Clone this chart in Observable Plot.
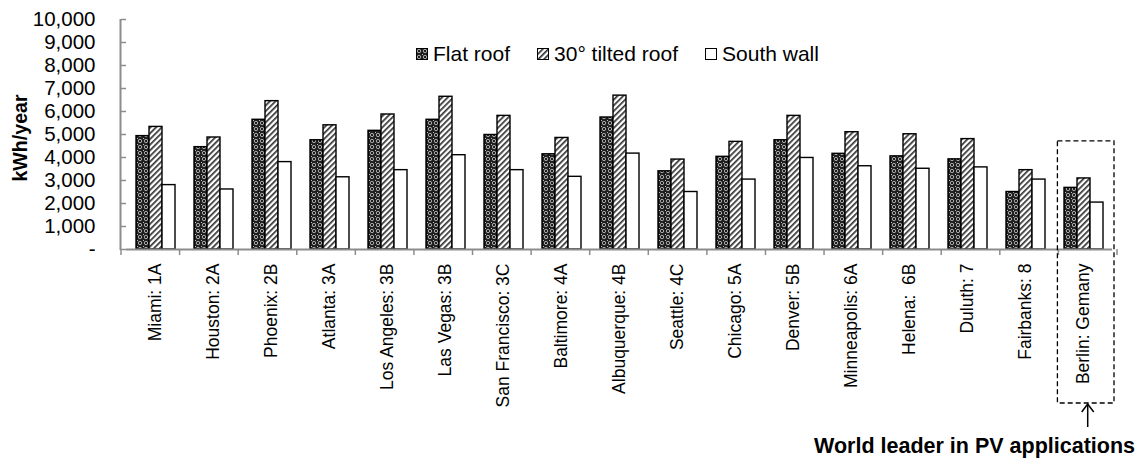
<!DOCTYPE html>
<html><head><meta charset="utf-8">
<script src="https://cdn.jsdelivr.net/npm/d3@7"></script>
<script src="https://cdn.jsdelivr.net/npm/@observablehq/plot@0.6"></script>
<style>
html,body{margin:0;padding:0;background:#fff;}
#wrap{position:relative;width:1144px;height:459px;font-family:Arial,"Liberation Sans",sans-serif;}
#legend{position:absolute;left:416px;top:42px;display:flex;align-items:center;font-size:21px;line-height:24px;color:#000;white-space:nowrap;}
.item{display:flex;align-items:center;margin-right:27px;}
.item svg{margin-right:5px;display:block;}
svg text{white-space:pre;}
</style></head><body><div id="wrap"><div id="legend"></div></div>
<script>
const cities = ["Miami: 1A","Houston: 2A","Phoenix: 2B","Atlanta: 3A","Los Angeles: 3B","Las Vegas: 3B","San Francisco: 3C","Baltimore: 4A","Albuquerque: 4B","Seattle: 4C","Chicago: 5A","Denver: 5B","Minneapolis: 6A","Helena:  6B","Duluth: 7","Fairbanks: 8","Berlin: Gemany"];
const series = ["Flat roof","30° tilted roof","South wall"];
const flat   = [4930,4450,5640,4750,5160,5640,4980,4140,5740,3400,4030,4750,4160,4050,3920,2500,2680];
const tilted = [5330,4870,6450,5400,5870,6640,5810,4850,6690,3910,4680,5810,5100,5010,4800,3450,3090];
const south  = [2800,2610,3800,3140,3450,4100,3450,3160,4170,2500,3040,3980,3620,3510,3570,3040,2040];
const yTicks = [0,1000,2000,3000,4000,5000,6000,7000,8000,9000,10000];
const yLabel = "kWh/year";
const annotation = "World leader in PV applications";
const highlighted = "Berlin: Gemany";

const table = cities.flatMap((c, i) => [
  {city: c, series: series[0], value: flat[i]},
  {city: c, series: series[1], value: tilted[i]},
  {city: c, series: series[2], value: south[i]}
]);
const fills = ["url(#patFlat)", "url(#patTilt)", "#ffffff"];
const axisGray = "#8c8c8c";

const plot = Plot.plot({
  width: 1144, height: 459,
  marginTop: 19, marginBottom: 210, marginLeft: 121, marginRight: 27,
  style: {fontFamily: "Arial, 'Liberation Sans', sans-serif", fontSize: "20px", background: "transparent", overflow: "visible", color: "#000"},
  fx: {domain: cities, padding: 0, label: null},
  x: {domain: series, paddingInner: 0, paddingOuter: 0.69, axis: null},
  y: {domain: [0, 10000], axis: null},
  color: {domain: series, range: fills},
  marks: [
    Plot.barY(table, {fx: "city", x: "series", y: "value", fill: "series", stroke: "#000", strokeWidth: 1.4}),
    Plot.ruleY([0], {stroke: axisGray, strokeWidth: 2}),
    Plot.axisY({ticks: yTicks, tickFormat: d => d === 0 ? "-" : d3.format(",")(d), tickSize: 5, tickPadding: 26, fontSize: 20.5, stroke: axisGray, strokeWidth: 1.5, label: null}),
    Plot.axisFx({anchor: "bottom", tickRotate: -90, tickSize: 0, tickPadding: 14, fontSize: 17.5, label: null})
  ]
});

const svg = d3.select(plot);
const defs = svg.insert("defs", ":first-child");
const pf = defs.append("pattern").attr("id", "patFlat").attr("patternUnits", "userSpaceOnUse").attr("width", 6).attr("height", 6);
pf.append("rect").attr("width", 6).attr("height", 6).attr("fill", "#1e1e1e");
pf.append("circle").attr("cx", 3).attr("cy", 3).attr("r", 1.7).attr("fill", "none").attr("stroke", "#aaaaaa").attr("stroke-width", 1);
pf.append("rect").attr("x", 0).attr("y", 0).attr("width", 1).attr("height", 1).attr("fill", "#bdbdbd");
const pt = defs.append("pattern").attr("id", "patTilt").attr("patternUnits", "userSpaceOnUse").attr("width", 4).attr("height", 4).attr("patternTransform", "rotate(45)");
pt.append("rect").attr("width", 4).attr("height", 4).attr("fill", "#fff");
pt.append("rect").attr("width", 1.7).attr("height", 4).attr("fill", "#333");

// scale-derived geometry
const fxS = plot.scale("fx"), yS = plot.scale("y");
const x0 = fxS.range[0], step = (fxS.range[1] - fxS.range[0]) / cities.length;
const yBot = yS.range[0], yTop = yS.range[1];
const yv = v => yBot + (yTop - yBot) * (v - yS.domain[0]) / (yS.domain[1] - yS.domain[0]);

const deco = svg.append("g");
deco.append("line").attr("x1", x0 - 0.5).attr("x2", x0 - 0.5).attr("y1", yTop).attr("y2", yBot + 1).attr("stroke", axisGray).attr("stroke-width", 2);
for (let i = 0; i <= cities.length; i++) {
  deco.append("line").attr("x1", x0 + i * step).attr("x2", x0 + i * step).attr("y1", yBot).attr("y2", yBot + 6).attr("stroke", axisGray).attr("stroke-width", 1.5);
}
const bi = cities.indexOf(highlighted);
const bx0 = x0 + bi * step - 1, bx1 = x0 + (bi + 1) * step - 3;
const bTop = yv(4700), bBot = yBot + 154;
deco.append("rect").attr("x", bx0).attr("y", bTop).attr("width", bx1 - bx0).attr("height", bBot - bTop)
  .attr("fill", "none").attr("stroke", "#000").attr("stroke-width", 1.3).attr("stroke-dasharray", "5,3");
const cx = x0 + (bi + 0.5) * step;
deco.append("line").attr("x1", cx).attr("x2", cx).attr("y1", bBot + 24).attr("y2", bBot + 1).attr("stroke", "#000").attr("stroke-width", 1.5);
deco.append("polyline").attr("points", `${cx - 6},${bBot + 9} ${cx},${bBot + 1} ${cx + 6},${bBot + 9}`).attr("fill", "none").attr("stroke", "#000").attr("stroke-width", 1.5);
deco.append("text").attr("x", 1135).attr("y", 453).attr("text-anchor", "end").attr("font-weight", "bold").attr("font-size", 21.5).attr("fill", "#000").text(annotation);
deco.append("text").attr("transform", `translate(27,${(yTop + yBot) / 2 + 4}) rotate(-90)`).attr("text-anchor", "middle").attr("font-weight", "bold").attr("font-size", 19.6).attr("fill", "#000").text(yLabel);

const wrap = document.getElementById("wrap");
wrap.insertBefore(plot, wrap.firstChild);

const legend = d3.select("#legend");
series.forEach((s, i) => {
  const item = legend.append("div").attr("class", "item");
  const sw = item.append("svg").attr("width", 12).attr("height", 12);
  sw.append("rect").attr("x", 0.5).attr("y", 0.5).attr("width", 11).attr("height", 11).attr("fill", fills[i]).attr("stroke", "#000").attr("stroke-width", 1);
  item.append("span").text(s);
});
</script></body></html>
